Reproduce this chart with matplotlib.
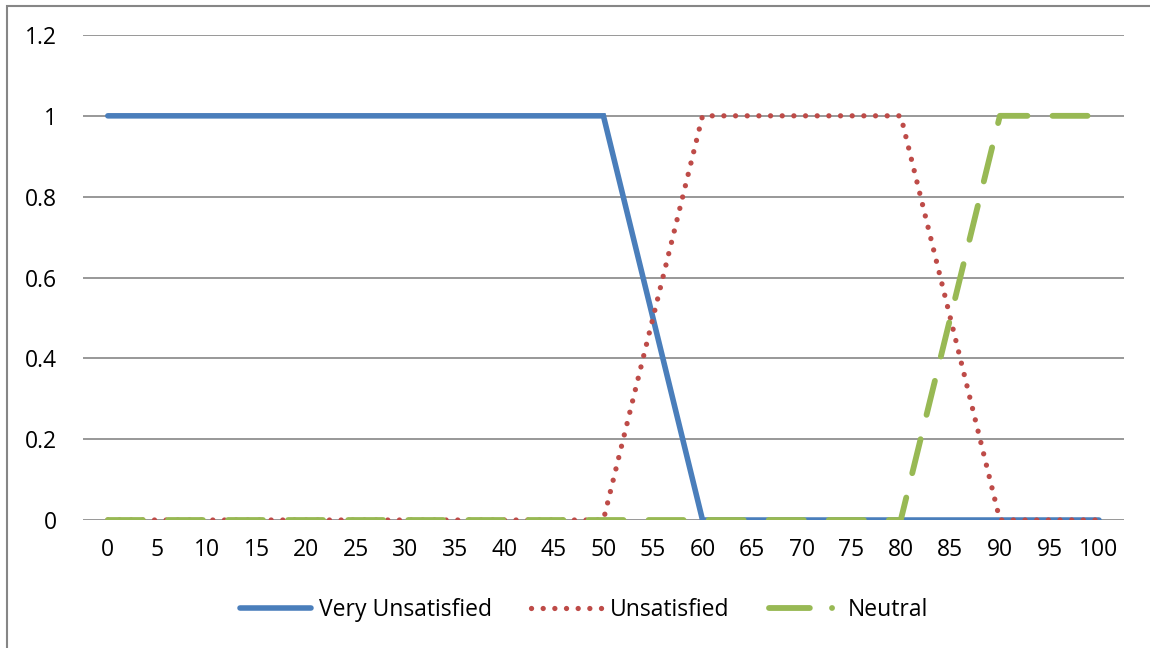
import matplotlib.pyplot as plt
from matplotlib.lines import Line2D
from matplotlib.patches import Rectangle

plt.rcParams['font.family'] = ['Open Sans', 'DejaVu Sans']

# data
categories = ['0', '5', '10', '15', '20', '25', '30', '35', '40', '45', '50',
              '55', '60', '65', '70', '75', '80', '85', '90', '95', '100']
very_unsatisfied = [1, 1, 1, 1, 1, 1, 1, 1, 1, 1, 1,
                    0.5, 0, 0, 0, 0, 0, 0, 0, 0, 0]
unsatisfied = [0, 0, 0, 0, 0, 0, 0, 0, 0, 0, 0,
               0.5, 1, 1, 1, 1, 1, 0.5, 0, 0, 0]
neutral = [0, 0, 0, 0, 0, 0, 0, 0, 0, 0, 0,
           0, 0, 0, 0, 0, 0, 0.5, 1, 1, 1]

c_blue = '#4a7ebb'
c_red = '#be4b48'
c_green = '#98b954'
c_grid = '#868686'

fig = plt.figure(figsize=(11.5, 6.48), dpi=100)
ax = fig.add_axes([0.0722, 0.1975, 0.905, 0.7485])

x = list(range(len(categories)))
ax.plot(x, very_unsatisfied, color=c_blue, lw=4.0, solid_capstyle='round',
        solid_joinstyle='miter', zorder=3)
ax.plot(x, unsatisfied, color=c_red, lw=3.8, linestyle=(0, (0.01, 2.2)),
        dash_capstyle='round', zorder=4)
ax.plot(x, neutral, color=c_green, lw=4.2, linestyle=(0, (6.0, 4.3)),
        dash_capstyle='round', zorder=5)

ax.set_xlim(-0.5, len(categories) - 0.5)
ax.set_ylim(0, 1.2)
ax.set_xticks(x)
ax.set_xticklabels(categories)
ax.set_yticks([0, 0.2, 0.4, 0.6, 0.8, 1, 1.2])
ax.set_yticklabels(['0', '0.2', '0.4', '0.6', '0.8', '1', '1.2'])
ax.tick_params(axis='both', length=0, labelsize=16.5, colors='black')
ax.tick_params(axis='y', pad=18.5)
ax.tick_params(axis='x', pad=13)
ax.grid(axis='y', color=c_grid, lw=1.2, zorder=1)
ax.set_axisbelow(True)
for s in ax.spines.values():
    s.set_visible(False)

handles = [
    Line2D([], [], color=c_blue, lw=4.0, solid_capstyle='round'),
    Line2D([], [], color=c_red, lw=3.8, linestyle=(0, (0.01, 2.2)), dash_capstyle='round'),
    Line2D([], [], color=c_green, lw=4.2, linestyle=(0, (7.0, 3.8, 0.01, 3.8)),
           dash_capstyle='round'),
]
fig.legend(handles, ['Very Unsatisfied', 'Unsatisfied', 'Neutral'],
           loc='center', bbox_to_anchor=(0.508, 0.058), ncol=3, frameon=False,
           fontsize=16.5, handlelength=3.1, handletextpad=0.35, columnspacing=1.7)

# chart border (only top/left visible in the crop)
fig.patches.append(Rectangle((7 / 1150, -0.1), 1.2, 1 - 6 / 648 + 0.1,
                             transform=fig.transFigure, fill=False,
                             edgecolor='#868686', lw=1.5))

fig.savefig('out.png', dpi=100)
